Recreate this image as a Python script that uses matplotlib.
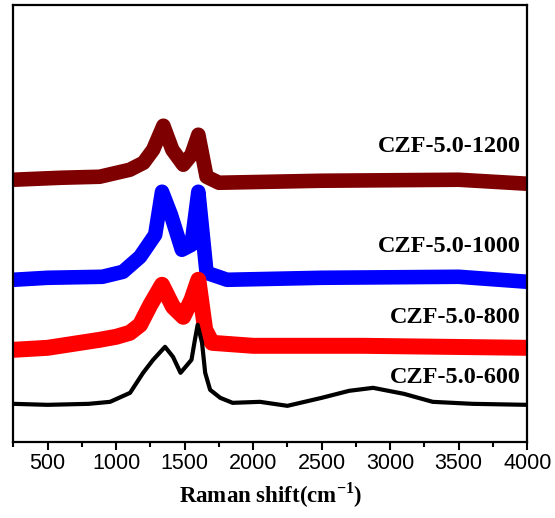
import matplotlib
matplotlib.use('Agg')
import matplotlib.pyplot as plt
from matplotlib.ticker import MultipleLocator

# Spectres Raman (intensite en unites arbitraires, decalees)
x_600 = [250, 500, 800, 956, 1102, 1197, 1270, 1357, 1415, 1470, 1550, 1575, 1595,
         1627, 1650, 1686, 1760, 1850, 2050, 2250, 2500, 2700, 2875, 3100, 3310, 3600, 4000]
y_600 = [38, 37, 38, 40, 49, 69, 82, 95, 85, 69, 82, 102, 117,
         99, 69, 52, 44, 39, 40, 36, 44, 51, 54, 48, 40, 38, 37]

x_800 = [250, 500, 880, 1000, 1100, 1175, 1250, 1335, 1415, 1490, 1550, 1600,
         1650, 1700, 2000, 2800, 4000]
y_800 = [92, 94, 102, 105, 109, 117, 137, 157, 135, 125, 142, 162,
         112, 99, 96, 96, 94]

x_1000 = [250, 500, 900, 1050, 1175, 1285, 1335, 1400, 1480, 1550, 1600,
          1660, 1810, 2500, 3500, 4000]
y_1000 = [162, 164, 165, 170, 185, 207, 250, 227, 192, 197, 250,
          169, 162, 164, 165, 160]

x_1200 = [250, 600, 880, 1100, 1200, 1270, 1345, 1410, 1490, 1550, 1600,
          1660, 1750, 2500, 3500, 4000]
y_1200 = [262, 264, 265, 272, 279, 292, 316, 292, 277, 287, 307,
          265, 259, 261, 262, 258]

noms = ['CZF-5.0-600', 'CZF-5.0-800', 'CZF-5.0-1000', 'CZF-5.0-1200']
pos_noms = [64, 124, 195, 295]

plt.rcParams['mathtext.fontset'] = 'custom'
plt.rcParams['mathtext.bf'] = 'Liberation Serif:bold'
plt.rcParams['mathtext.rm'] = 'Liberation Serif:bold'

fig = plt.figure(figsize=(5.55, 5.18), dpi=100)
ax = fig.add_axes([0.024, 0.147, 0.926, 0.844])

# bandes bruitees representees par un trait epais
ax.plot(x_1200, y_1200, color='#7f0000', lw=10.5, solid_joinstyle='round', solid_capstyle='butt')
ax.plot(x_1000, y_1000, color='#0000ff', lw=10.5, solid_joinstyle='round', solid_capstyle='butt')
ax.plot(x_800, y_800, color='#ff0000', lw=11.5, solid_joinstyle='round', solid_capstyle='butt')
ax.plot(x_600, y_600, color='black', lw=3, solid_joinstyle='round')

for nom, yy in zip(noms, pos_noms):
    ax.text(3950, yy, nom, ha='right', va='center', fontsize=17.5,
            family='Liberation Serif', fontweight='bold')

ax.set_xlim(250, 4000)
ax.set_ylim(0, 437)
ax.set_yticks([])
ax.xaxis.set_major_locator(MultipleLocator(500))
ax.xaxis.set_minor_locator(MultipleLocator(250))
ax.tick_params(axis='x', which='major', direction='out', length=6, width=1.5,
               labelsize=15.5, pad=2)
ax.tick_params(axis='x', which='minor', direction='out', length=3.5, width=1.5)
for lab in ax.get_xticklabels():
    lab.set_family('Liberation Sans')
for s in ax.spines.values():
    s.set_linewidth(1.6)

ax.set_xlabel(r'Raman shift(cm$^{-1}$)', fontsize=16.5, family='Liberation Serif',
              fontweight='bold', labelpad=5)

fig.savefig('out.png', dpi=100)
